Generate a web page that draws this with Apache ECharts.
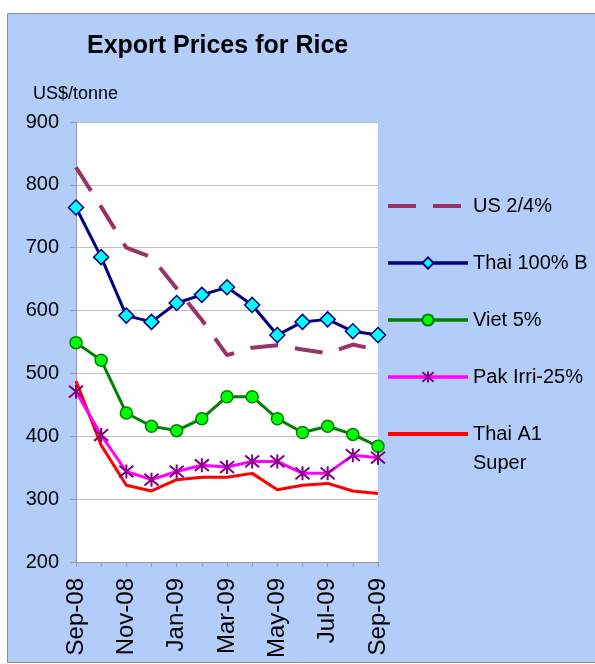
<!DOCTYPE html>
<html><head><meta charset="utf-8">
<script src="https://cdn.jsdelivr.net/npm/echarts@6/dist/echarts.min.js"></script>
<style>html,body{margin:0;padding:0;background:#fff}#c{width:595px;height:664px}</style>
</head><body><div id="c"></div>
<script>
const categories = ['Sep-08','Oct-08','Nov-08','Dec-08','Jan-09','Feb-09','Mar-09','Apr-09','May-09','Jun-09','Jul-09','Aug-09','Sep-09'];
const us24 = [828, 765, 700, 685, 635, 585, 529, 541, 545, 538, 532, 546, 537];
const thai100B = [764, 685, 592, 582, 612, 625, 637, 609, 561, 582, 586, 567, 561];
const viet5 = [549, 521, 437, 416, 409, 428, 463, 463, 428, 406, 416, 403, 384];
const pakIrri25 = [471, 402, 344, 331, 344, 354, 351, 360, 360, 341, 341, 370, 366];
const thaiA1Super = [488, 386, 322, 313, 331, 335, 335, 341, 315, 322, 325, 313, 309];
const yTicks = [200, 300, 400, 500, 600, 700, 800, 900];

const FONT = 'Liberation Sans, Arial, sans-serif';
const chart = echarts.init(document.getElementById('c'), null, {renderer:'canvas'});
const asterisk = 'path://M0,0 L10,10 M10,0 L0,10 M5,-1 L5,11';
chart.setOption({
  backgroundColor: '#fff',
  animation: false,
  textStyle: {fontFamily: FONT},
  graphic: [
    {type:'rect', z:-100, shape:{x:7.5, y:13.5, width:600, height:649}, style:{fill:'#b3cdfb', stroke:'#8c8c8c', lineWidth:1}},
    {type:'text', left:87, top:34, style:{text:'Export Prices for Rice', font:'bold 25px '+FONT, fill:'#000'}},
    {type:'text', left:33, top:85, style:{text:'US$/tonne', font:'18px '+FONT, fill:'#000'}},
    {type:'text', left:473, top:453, style:{text:'Super', font:'20px '+FONT, fill:'#000'}}
  ],
  grid: {left:76, right:217, top:122, bottom:102, show:true, backgroundColor:'#fff', borderWidth:0},
  legend: {
    orient:'vertical', left:381, top:191, itemWidth:80, itemHeight:14, itemGap:37,
    textStyle:{fontSize:20, color:'#000', fontFamily:FONT},
    formatter: n => n === 'Thai A1 Super' ? 'Thai A1' : n,
    data: [
      {name:'US 2/4%', itemStyle:{opacity:0}, lineStyle:{type:[28,17], width:4}},
      {name:'Thai 100% B', lineStyle:{width:3.5}},
      {name:'Viet 5%', lineStyle:{width:3.5}},
      {name:'Pak Irri-25%', lineStyle:{width:3.5}},
      {name:'Thai A1 Super', itemStyle:{opacity:0}, lineStyle:{width:4}}
    ]
  },
  xAxis: {
    type:'category', data:categories, boundaryGap:false,
    axisLine:{lineStyle:{color:'#999'}},
    axisTick:{show:true, interval:0, length:5, lineStyle:{color:'#999'}},
    axisLabel:{rotate:90, interval:1, fontSize:24, color:'#000', margin:16, fontFamily:FONT}
  },
  yAxis: {
    type:'value', min:yTicks[0], max:yTicks[yTicks.length-1], interval:100,
    axisLine:{show:true, lineStyle:{color:'#999'}},
    axisTick:{show:true, length:6, lineStyle:{color:'#999'}},
    axisLabel:{fontSize:20, color:'#000', margin:17, fontFamily:FONT},
    splitLine:{lineStyle:{color:'#c0c0c0'}}
  },
  series: [
    {name:'US 2/4%', type:'line', data:us24, symbol:'none',
     lineStyle:{color:'#993366', width:4, type:[28,17]}, itemStyle:{color:'#993366'}, z:3},
    {name:'Thai 100% B', type:'line', data:thai100B, symbol:'diamond', symbolSize:15,
     lineStyle:{color:'#000080', width:3}, itemStyle:{color:'#00ffff', borderColor:'#000080', borderWidth:1.5}, z:4},
    {name:'Viet 5%', type:'line', data:viet5, symbol:'circle', symbolSize:12,
     lineStyle:{color:'#008000', width:3}, itemStyle:{color:'#00ff00', borderColor:'#008000', borderWidth:1.5}, z:4},
    {name:'Pak Irri-25%', type:'line', data:pakIrri25, symbol:asterisk, symbolSize:14,
     lineStyle:{color:'#ff00ff', width:3}, itemStyle:{color:'rgba(0,0,0,0)', borderColor:'#800080', borderWidth:2}, z:4},
    {name:'Thai A1 Super', type:'line', data:thaiA1Super, symbol:'none',
     lineStyle:{color:'#ff0000', width:3}, itemStyle:{color:'#ff0000'}, z:3}
  ]
});
</script></body></html>
